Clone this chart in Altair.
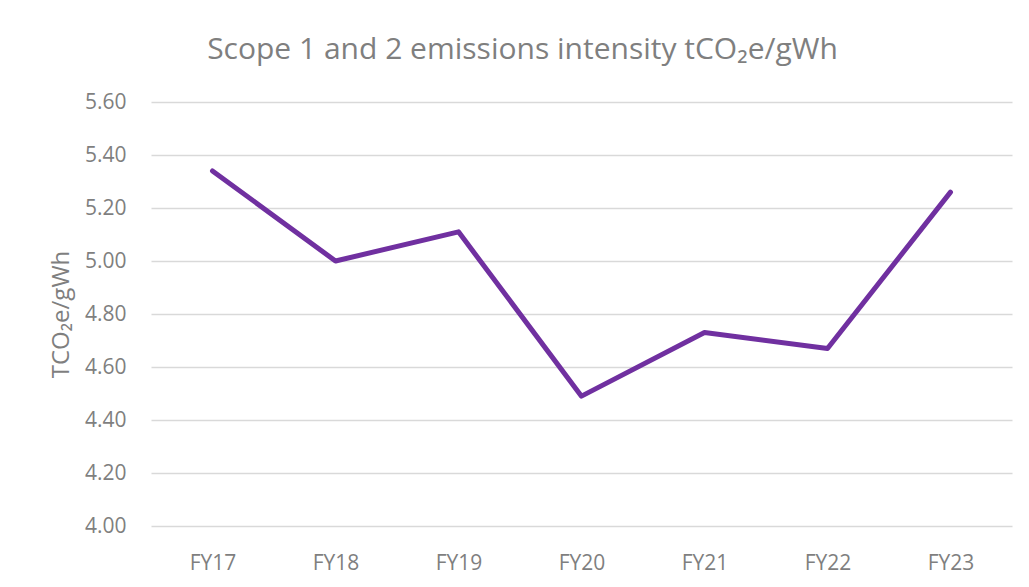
import altair as alt
import pandas as pd

years = ["FY17", "FY18", "FY19", "FY20", "FY21", "FY22", "FY23"]
intensity = [5.34, 5.00, 5.11, 4.49, 4.73, 4.67, 5.26]
y_ticks = [4.0, 4.2, 4.4, 4.6, 4.8, 5.0, 5.2, 5.4, 5.6]

df = pd.DataFrame({"year": years, "value": intensity})

FONT = "Open Sans"
GRAY = "#7f7f7f"

chart = alt.Chart(df).mark_line(
    color="#7030a0", strokeWidth=5, strokeCap="round", strokeJoin="round"
).encode(
    x=alt.X("year:N", sort=years, title=None,
            scale=alt.Scale(paddingInner=0, paddingOuter=0.5),
            axis=alt.Axis(labelAngle=0, labelFontSize=21, labelColor=GRAY,
                          labelFont=FONT, ticks=False, domain=False,
                          labelPadding=26, grid=False)),
    y=alt.Y("value:Q", title="TCO₂e/gWh",
            scale=alt.Scale(domain=[4.0, 5.6], nice=False, zero=False),
            axis=alt.Axis(values=y_ticks, format=".2f", labelFontSize=21,
                          labelColor=GRAY, labelFont=FONT, ticks=False,
                          domain=False, labelPadding=25, gridColor="#d9d9d9",
                          gridWidth=1.5, titleFontSize=24, titleColor=GRAY,
                          titleFont=FONT, titleFontWeight="normal",
                          titlePadding=11)),
).properties(
    width=861,
    height=424,
    title=alt.Title("Scope 1 and 2 emissions intensity tCO₂e/gWh",
                    fontSize=30, font=FONT, color=GRAY, fontWeight="normal",
                    anchor="middle", dx=-59, offset=26),
    autosize=alt.AutoSizeParams(type="none"),
    padding={"left": 143, "top": 94, "right": 8, "bottom": 55},
).configure_view(stroke=None)

chart.save("out.html", embed_options={"renderer": "svg", "actions": False})
